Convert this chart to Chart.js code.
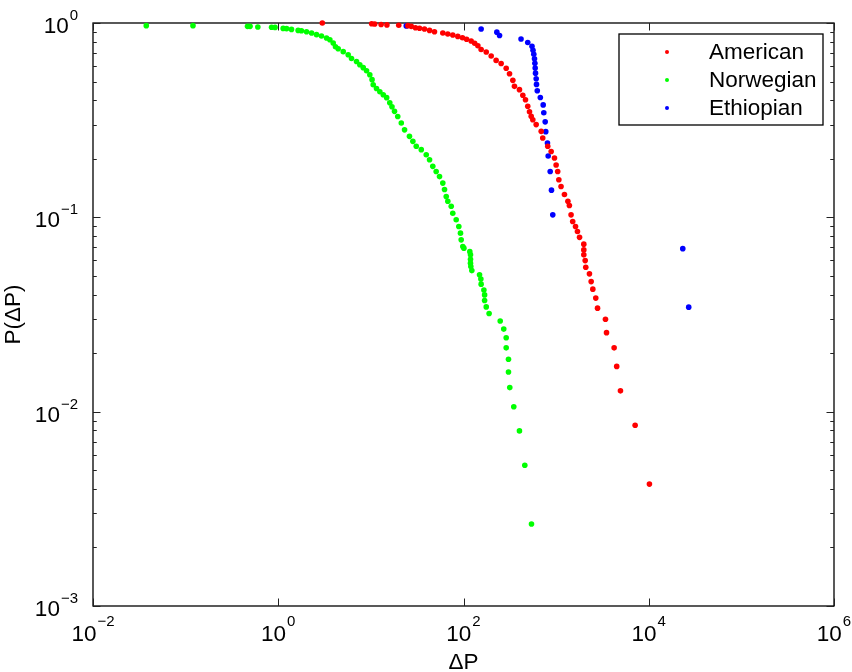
<!DOCTYPE html>
<html>
<head>
    <title>P(ΔP)</title>
    <script src="https://cdn.jsdelivr.net/npm/chart.js"></script>
    <style>
        body { margin: 0; background: #fff; }
    </style>
</head>
<body>
    <canvas id="myChart" width="852" height="672"></canvas>

    <script>
        // ---- data ----
        const seriesNames = ['American', 'Norwegian', 'Ethiopian'];
        const seriesColors = ['#ff0000', '#00ff00', '#0000ff'];

        const americanX = [2.99, 10.2, 11.0, 12.9, 14.9, 20.0, 25.1, 27.3, 30.3, 33.5, 37.9, 43.0, 48.6, 59.8, 67.7,
            76.6, 86.8, 97.5, 108, 121, 132, 143, 155, 176, 199, 225, 255, 289, 314, 341, 355, 402, 437, 467, 494,
            516, 538, 560, 609, 690, 717, 812, 884, 960, 1000, 1040, 1070, 1130, 1230, 1340, 1390, 1450, 1510, 1620,
            1700, 1790, 1990, 1990, 1990, 2060, 2090, 2290, 2390, 2490, 2680, 2800, 3410, 3500, 4230, 4510, 4950,
            7130, 10170];
        const americanY = [1.0, 0.992, 0.989, 0.982, 0.978, 0.974, 0.969, 0.961, 0.946, 0.940, 0.931, 0.916, 0.902,
            0.889, 0.878, 0.868, 0.853, 0.840, 0.825, 0.808, 0.787, 0.764, 0.731, 0.709, 0.676, 0.642, 0.619, 0.585,
            0.548, 0.507, 0.472, 0.454, 0.425, 0.403, 0.373, 0.349, 0.331, 0.318, 0.300, 0.277, 0.256, 0.232, 0.218,
            0.202, 0.186, 0.172, 0.156, 0.144, 0.131, 0.121, 0.115, 0.103, 0.0951, 0.0897, 0.0845, 0.0789, 0.0728,
            0.0680, 0.0641, 0.0599, 0.0554, 0.0512, 0.0467, 0.0427, 0.0384, 0.0341, 0.0299, 0.0255, 0.0213, 0.0171,
            0.0128, 0.00851, 0.00424];

        const norwegianX = [0.0376, 0.120, 0.466, 0.496, 0.602, 0.847, 0.924, 1.13, 1.23, 1.39, 1.64, 1.78, 2.02,
            2.29, 2.59, 2.93, 3.32, 3.61, 3.92, 4.15, 4.44, 5.03, 5.69, 6.18, 7.00, 7.60, 8.27, 8.98, 9.74, 10.3,
            10.6, 11.5, 12.5, 13.6, 14.8, 16.0, 16.9, 18.0, 19.5, 21.3, 23.1, 26.1, 28.4, 30.9, 35.0, 39.6, 43.0,
            46.6, 50.7, 55.1, 59.8, 62.4, 65.1, 67.7, 73.7, 76.6, 83.4, 89.0, 92.8, 94.4, 98.3, 101, 117, 119, 119,
            119, 120, 123, 149, 154, 155, 166, 169, 169, 176, 189, 249, 272, 289, 289, 306, 306, 316, 349, 402, 459,
            542];
        const norwegianY = [0.969, 0.969, 0.961, 0.961, 0.954, 0.951, 0.949, 0.938, 0.935, 0.927, 0.916, 0.913,
            0.902, 0.888, 0.871, 0.857, 0.837, 0.820, 0.789, 0.755, 0.737, 0.712, 0.687, 0.657, 0.634, 0.610, 0.589,
            0.568, 0.542, 0.511, 0.481, 0.460, 0.443, 0.427, 0.413, 0.389, 0.371, 0.351, 0.330, 0.306, 0.282, 0.261,
            0.246, 0.232, 0.223, 0.210, 0.198, 0.183, 0.172, 0.162, 0.150, 0.139, 0.128, 0.121, 0.114, 0.105, 0.0971,
            0.0897, 0.0829, 0.0766, 0.0707, 0.0694, 0.0666, 0.0641, 0.0609, 0.0581, 0.0558, 0.0532, 0.0506, 0.0481,
            0.0453, 0.0423, 0.0399, 0.0373, 0.0346, 0.0320, 0.0293, 0.0266, 0.0240, 0.0213, 0.0186, 0.0160, 0.0133,
            0.0106, 0.00796, 0.00530, 0.00264];

        const ethiopianX = [24.1, 155, 229, 245, 418, 494, 549, 563, 574, 584, 590, 594, 599, 609, 614, 626, 675,
            725, 736, 762, 773, 806, 821, 863, 891, 920, 23300, 27000];
        const ethiopianY = [0.966, 0.931, 0.897, 0.862, 0.828, 0.793, 0.759, 0.724, 0.690, 0.655, 0.621, 0.586,
            0.552, 0.517, 0.483, 0.448, 0.414, 0.379, 0.345, 0.310, 0.276, 0.241, 0.207, 0.172, 0.138, 0.103,
            0.0690, 0.0345];

        // tick labels are powers of ten
        const xTickExps = [-2, 0, 2, 4, 6];
        const yTickExps = [-3, -2, -1, 0];
        const xTitle = 'ΔP';
        const yTitle = 'P(ΔP)';

        const FONT = '"Liberation Sans", Arial, Helvetica, sans-serif';
        const MAIN_SIZE = 22.5;
        const SUP_SIZE = 15;

        function toPoints(xs, ys) {
            return xs.map((v, i) => ({ x: v, y: ys[i] }));
        }

        // draws "10" with a raised exponent; anchor is 'center' or 'right'
        function drawPow(ctx, exp, x, baseY, supY, anchor) {
            const base = '10';
            const sup = exp < 0 ? '\u2212' + Math.abs(exp) : String(exp);
            ctx.font = MAIN_SIZE + 'px ' + FONT;
            const wb = ctx.measureText(base).width;
            ctx.font = SUP_SIZE + 'px ' + FONT;
            const ws = ctx.measureText(sup).width;
            const total = wb + ws + 1;
            let x0 = anchor === 'center' ? x - total / 2 : x - total;
            ctx.textAlign = 'left';
            ctx.textBaseline = 'alphabetic';
            ctx.font = MAIN_SIZE + 'px ' + FONT;
            ctx.fillText(base, x0, baseY);
            ctx.font = SUP_SIZE + 'px ' + FONT;
            ctx.fillText(sup, x0 + wb + 1, supY);
        }

        // box, inward ticks, tick labels and axis titles
        const axesPlugin = {
            id: 'boxAxes',
            beforeDatasetsDraw(chart) {
                const { ctx, chartArea: a, scales: { x, y } } = chart;
                ctx.save();
                ctx.strokeStyle = '#000';
                ctx.lineWidth = 1.3;
                ctx.strokeRect(a.left, a.top, a.right - a.left, a.bottom - a.top);

                ctx.lineWidth = 1;
                ctx.strokeStyle = '#222';
                ctx.beginPath();
                xTickExps.forEach(e => {
                    const px = Math.round(x.getPixelForValue(Math.pow(10, e))) + 0.5;
                    ctx.moveTo(px, a.bottom); ctx.lineTo(px, a.bottom - 7.5);
                    ctx.moveTo(px, a.top); ctx.lineTo(px, a.top + 7.5);
                });
                for (let e = yTickExps[0]; e <= yTickExps[yTickExps.length - 1]; e++) {
                    const py = Math.round(y.getPixelForValue(Math.pow(10, e))) + 0.5;
                    ctx.moveTo(a.left, py); ctx.lineTo(a.left + 7.5, py);
                    ctx.moveTo(a.right, py); ctx.lineTo(a.right - 7.5, py);
                    if (e === yTickExps[yTickExps.length - 1]) break;
                    for (let m = 2; m <= 9; m++) {
                        const pm = Math.round(y.getPixelForValue(m * Math.pow(10, e))) + 0.5;
                        ctx.moveTo(a.left, pm); ctx.lineTo(a.left + 3.75, pm);
                        ctx.moveTo(a.right, pm); ctx.lineTo(a.right - 3.75, pm);
                    }
                }
                ctx.stroke();

                ctx.fillStyle = '#000';
                xTickExps.forEach(e => {
                    const px = x.getPixelForValue(Math.pow(10, e));
                    drawPow(ctx, e, px, a.bottom + 35, a.bottom + 20, 'center');
                });
                yTickExps.forEach(e => {
                    const py = y.getPixelForValue(Math.pow(10, e));
                    drawPow(ctx, e, a.left - 15, py + 10, py - 3, 'right');
                });

                ctx.font = MAIN_SIZE + 'px ' + FONT;
                ctx.textAlign = 'center';
                ctx.textBaseline = 'alphabetic';
                ctx.fillText(xTitle, (a.left + a.right) / 2, a.bottom + 63);

                ctx.translate(20, (a.top + a.bottom) / 2);
                ctx.rotate(-Math.PI / 2);
                ctx.fillText(yTitle, 0, 0);
                ctx.restore();
            }
        };

        // boxed legend in the upper right corner
        const legendPlugin = {
            id: 'boxLegend',
            afterDatasetsDraw(chart) {
                const { ctx } = chart;
                const left = 619, top = 34, w = 204, h = 91;
                ctx.save();
                ctx.fillStyle = '#fff';
                ctx.fillRect(left, top, w, h);
                ctx.strokeStyle = '#000';
                ctx.lineWidth = 1.3;
                ctx.strokeRect(left, top, w, h);
                ctx.font = MAIN_SIZE + 'px ' + FONT;
                ctx.textAlign = 'left';
                ctx.textBaseline = 'middle';
                chart.data.datasets.forEach((ds, i) => {
                    const rowY = top + 18 + i * 28;
                    ctx.fillStyle = ds.backgroundColor;
                    ctx.beginPath();
                    ctx.arc(left + 48, rowY, 2, 0, Math.PI * 2);
                    ctx.fill();
                    ctx.fillStyle = '#000';
                    ctx.fillText(ds.label, left + 90, rowY + 1);
                });
                ctx.restore();
            }
        };

        const allX = [americanX, norwegianX, ethiopianX];
        const allY = [americanY, norwegianY, ethiopianY];

        const ctx = document.getElementById('myChart').getContext('2d');
        const myChart = new Chart(ctx, {
            type: 'scatter',
            data: {
                datasets: seriesNames.map((name, i) => ({
                    label: name,
                    data: toPoints(allX[i], allY[i]),
                    backgroundColor: seriesColors[i],
                    borderWidth: 0,
                    pointRadius: 2.8,
                    clip: false
                }))
            },
            options: {
                responsive: false,
                animation: false,
                devicePixelRatio: 1,
                layout: { padding: { left: 93, right: 18, top: 23, bottom: 66 } },
                plugins: {
                    legend: { display: false },
                    tooltip: { enabled: false }
                },
                scales: {
                    x: { type: 'logarithmic', min: 0.01, max: 1e6, display: false },
                    y: { type: 'logarithmic', min: 0.001, max: 1, display: false }
                }
            },
            plugins: [axesPlugin, legendPlugin]
        });
    </script>
</body>
</html>
